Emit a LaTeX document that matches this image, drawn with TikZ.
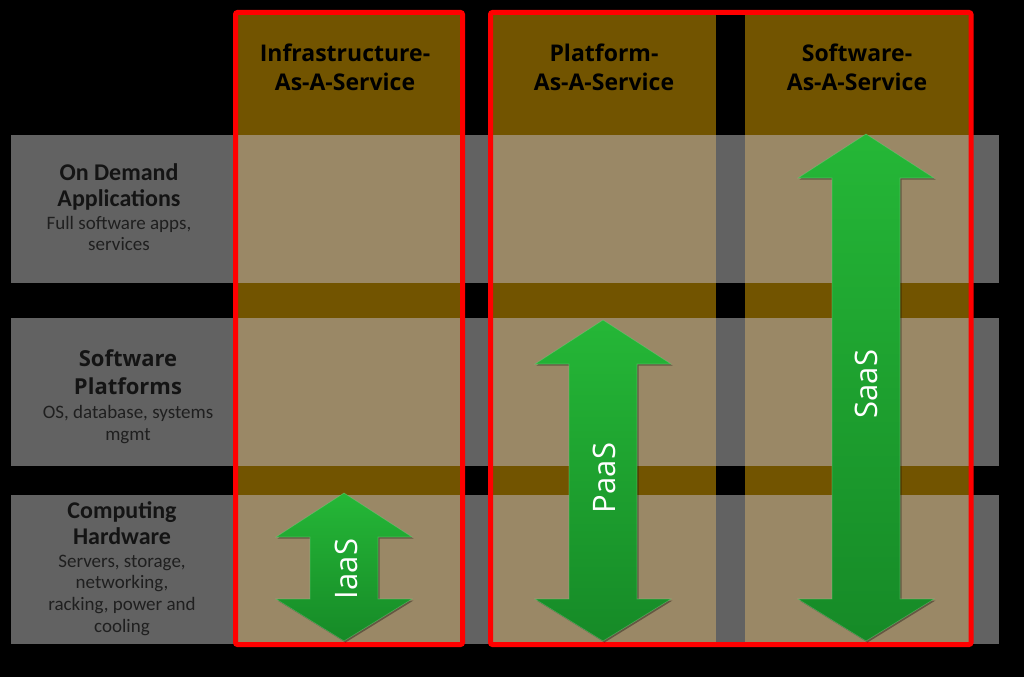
\documentclass[tikz,border=0pt]{standalone}
\usepackage{fontspec}
\newfontfamily\hdfont{Open Sans}
\newfontfamily\rowfont{Carlito}
\definecolor{rowgray}{HTML}{626262}
\definecolor{colbrown}{HTML}{725400}
\definecolor{overlap}{HTML}{9A8866}
\definecolor{arrtop}{HTML}{25B737}
\definecolor{arrbot}{HTML}{168A27}
\newcommand{\greenarrow}[3]{%
  \path[arrowshape] (#1,#2) -- (#1+68,#2+44) -- (#1+34,#2+44) -- (#1+34,#3-42)
    -- (#1+68,#3-42) -- (#1,#3) -- (#1-68,#3-42) -- (#1-34,#3-42)
    -- (#1-34,#2+44) -- (#1-68,#2+44) -- cycle;}
\begin{document}
\begin{tikzpicture}[x=1pt,y=-1pt,
  rowband/.style={fill=rowgray},
  colband/.style={fill=colbrown},
  cell/.style={fill=overlap},
  redframe/.style={draw=red,line width=5pt,rounded corners=2pt},
  arrowshape/.style={top color=arrtop,bottom color=arrbot,
    draw=arrtop!60!white,draw opacity=0.45,line width=0.6pt,
    preaction={fill=black,fill opacity=0.35,transform canvas={xshift=1.5pt,yshift=-1.5pt}}},
  header/.style={font=\hdfont\bfseries\fontsize{23}{28}\selectfont,text=black,anchor=base,inner sep=0pt},
  rowhead/.style={font=\rowfont\bfseries\fontsize{24}{26}\selectfont,text=black!92,anchor=base,inner sep=0pt},
  rowheadb/.style={font=\hdfont\bfseries\fontsize{22}{26}\selectfont,text=black!92,anchor=base,inner sep=0pt},
  rowsub/.style={font=\rowfont\fontsize{19}{21}\selectfont,text=black!88,anchor=base,inner sep=0pt},
  arrlabel/.style={font=\hdfont\fontsize{31}{34}\selectfont,text=white,rotate=90,inner sep=0pt}]
\useasboundingbox[fill=black] (0,0) rectangle (1024,677);
% rows
\fill[rowband] (11,135) rectangle (999,283);
\fill[rowband] (11,318) rectangle (999,466);
\fill[rowband] (11,495) rectangle (999,644);
% columns
\fill[colband] (236,12) rectangle (462,644);
\fill[colband] (491,12) rectangle (716,644);
\fill[colband] (745,12) rectangle (970,644);
% overlaps
\foreach \xa/\xb in {236/462,491/716,745/970}{
  \fill[cell] (\xa,135) rectangle (\xb,283);
  \fill[cell] (\xa,318) rectangle (\xb,466);
  \fill[cell] (\xa,495) rectangle (\xb,644);
}
% red frames
\draw[redframe] (235.5,12.5) rectangle (462.5,644.5);
\draw[redframe] (490.5,12.5) rectangle (971,644.5);
% headers
\node[header] (h1a) at (345,62) {Infrastructure-};
\node[header] (h1b) at (345,90) {As-A-Service};
\node[header] (h2a) at (604,62) {Platform-};
\node[header] (h2b) at (604,90) {As-A-Service};
\node[header] (h3a) at (857,62) {Software-};
\node[header] (h3b) at (857,90) {As-A-Service};
% row labels
\node[rowhead] (r1a) at (119,180) {On Demand};
\node[rowhead] (r1b) at (119,206) {Applications};
\node[rowsub] (r1c) at (119,229) {Full software apps,};
\node[rowsub] (r1d) at (119,250) {services};
\node[rowheadb] (r2a) at (128,366) {Software};
\node[rowheadb] (r2b) at (128,394) {Platforms};
\node[rowsub] (r2c) at (128,418) {OS, database, systems};
\node[rowsub] (r2d) at (128,440) {mgmt};
\node[rowhead] (r3a) at (122,518) {Computing};
\node[rowhead] (r3b) at (122,544) {Hardware};
\node[rowsub] (r3c) at (122,567) {Servers, storage,};
\node[rowsub] (r3d) at (122,588) {networking,};
\node[rowsub] (r3e) at (122,610) {racking, power and};
\node[rowsub] (r3f) at (122,632) {cooling};
% arrows
\greenarrow{344}{493}{641}
\greenarrow{603}{320}{641}
\greenarrow{866}{134}{641}
\node[arrlabel] (iaas) at (346,569) {IaaS};
\node[arrlabel] (paas) at (604,478) {PaaS};
\node[arrlabel] (saas) at (866,384) {SaaS};
\end{tikzpicture}
\end{document}
